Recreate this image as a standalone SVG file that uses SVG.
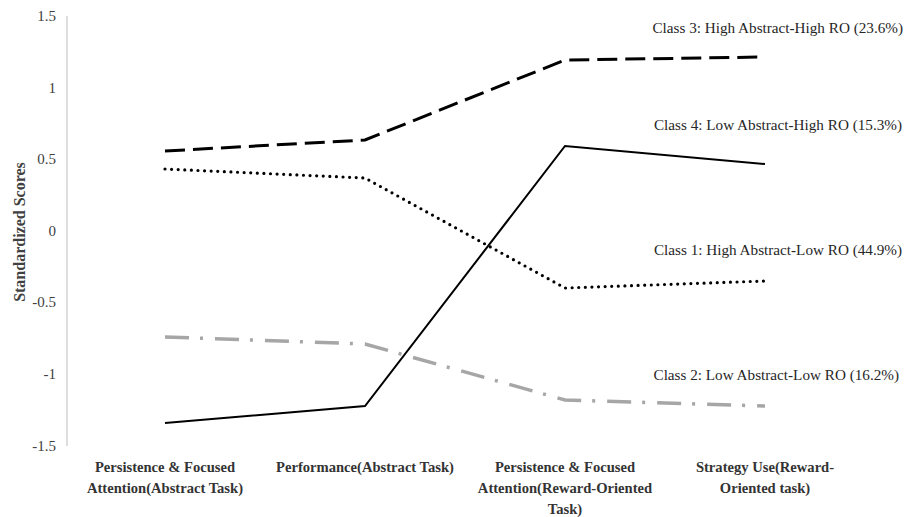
<svg xmlns="http://www.w3.org/2000/svg" width="920" height="517" viewBox="0 0 920 517">
<style>
  text { font-family: "Liberation Serif", "Times New Roman", "DejaVu Serif", serif; }
  .tick { font-size: 15px; fill: #404040; text-anchor: end; }
  .cat { font-size: 14.6px; font-weight: bold; fill: #333; text-anchor: middle; }
  .lbl { font-size: 15.2px; fill: #262626; text-anchor: end; }
  .ttl { font-size: 16px; font-weight: bold; fill: #404040; text-anchor: middle; }
  .s { fill: none; }
  .c3 { stroke: #000; stroke-width: 3; stroke-dasharray: 20 8; }
  .c1 { stroke: #000; stroke-width: 3.2; stroke-dasharray: 0 6.6; stroke-linecap: round; }
  .c4 { stroke: #000; stroke-width: 2; }
  .c2 { stroke: #a6a6a6; stroke-width: 3.5; stroke-dasharray: 24 11 3 12; }
</style>
<rect width="920" height="517" fill="#fff"/>
<g id="axis">
  <line x1="67" y1="16" x2="67" y2="446" stroke="#c8c8c8" stroke-width="1.2"/>
  <text class="tick" x="56" y="21">1.5</text>
  <text class="tick" x="56" y="93">1</text>
  <text class="tick" x="56" y="164">0.5</text>
  <text class="tick" x="56" y="236">0</text>
  <text class="tick" x="56" y="307">-0.5</text>
  <text class="tick" x="56" y="379">-1</text>
  <text class="tick" x="56" y="451">-1.5</text>
  <text class="ttl" transform="translate(25 232) rotate(-90)">Standardized Scores</text>
</g>
<g id="categories">
  <text class="cat" x="165" y="472">Persistence &amp; Focused</text>
  <text class="cat" x="165" y="493">Attention(Abstract Task)</text>
  <text class="cat" x="365" y="472">Performance(Abstract Task)</text>
  <text class="cat" x="565" y="472">Persistence &amp; Focused</text>
  <text class="cat" x="565" y="493">Attention(Reward-Oriented</text>
  <text class="cat" x="565" y="514">Task)</text>
  <text class="cat" x="765" y="472">Strategy Use(Reward-</text>
  <text class="cat" x="765" y="493">Oriented task)</text>
</g>
<g id="connectors">
  <polyline id="class3-line" class="s c3" points="165,151 365,140 565,60 765,57"/>
  <polyline id="class1-line" class="s c1" points="165,169 365,178 565,288 765,281"/>
  <polyline id="class4-line" class="s c4" points="165,423 365,406 565,146 765,164"/>
  <polyline id="class2-line" class="s c2" points="165,337 365,344 565,400 765,406"/>
</g>
<g id="class3"><text class="lbl" x="903" y="33">Class 3: High Abstract-High RO (23.6%)</text></g>
<g id="class4"><text class="lbl" x="902" y="130">Class 4: Low Abstract-High RO (15.3%)</text></g>
<g id="class1"><text class="lbl" x="902" y="255">Class 1: High Abstract-Low RO (44.9%)</text></g>
<g id="class2"><text class="lbl" x="899" y="380">Class 2: Low Abstract-Low RO (16.2%)</text></g>
</svg>
